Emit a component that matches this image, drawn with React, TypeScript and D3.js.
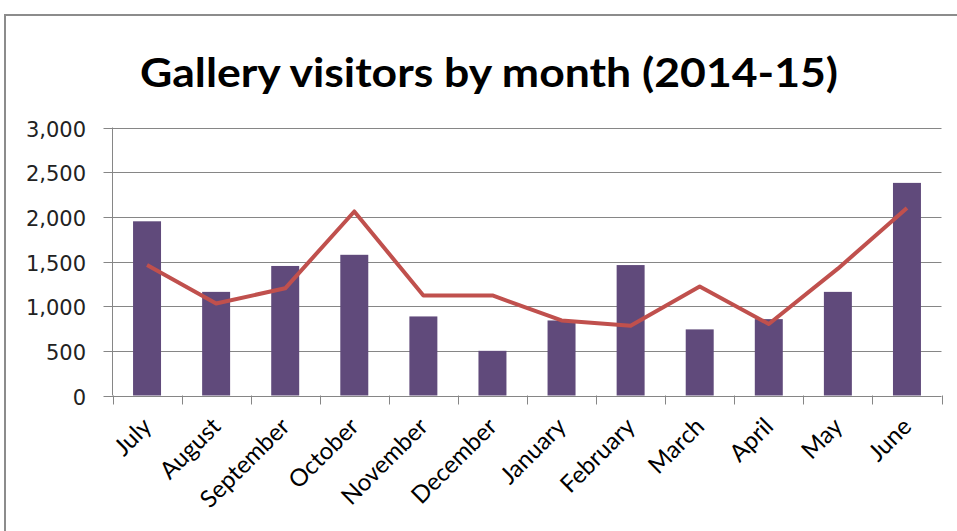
import React from "react";
import * as d3 from "d3";

const months = ["July","August","September","October","November","December","January","February","March","April","May","June"];
const visitors = [1950,1160,1450,1575,885,500,840,1460,740,855,1160,2380];
const trend = [1460,1030,1200,2060,1120,1120,840,780,1220,800,1420,2100];
const yTicks = [0,500,1000,1500,2000,2500,3000];
const title = "Gallery visitors by month (2014-15)";

const W = 957, H = 531;
const left = 112.5, right = 941.5, top = 127.5, bottom = 395.5;

export default function App() {
  const x = d3.scaleBand<string>().domain(months).range([left, right]).paddingInner(0).paddingOuter(0);
  const y = d3.scaleLinear().domain([0, 3000]).range([bottom, top]);
  const bw = x.bandwidth() * 0.405;
  const line = d3.line<number>().x((_, i) => x(months[i])! + x.bandwidth() / 2).y(d => y(d));
  const boundaries = d3.range(months.length + 1).map(i => left + i * x.bandwidth());
  return (
    <svg width={W} height={H} style={{ position: "absolute", left: 0, top: 0, background: "#fff" }}>
      <rect x={5} y={15} width={1000} height={600} fill="#fff" stroke="#8c8c8c" strokeWidth={2} />
      <text x={489} y={87} textAnchor="middle" fontFamily="Lato, 'Open Sans', sans-serif" fontWeight="bold" fontSize={41} textLength={698} lengthAdjust="spacingAndGlyphs" fill="#000">{title}</text>
      {yTicks.map(t => (
        <g key={t}>
          <line x1={left - 9} x2={right} y1={Math.round(y(t)) + 0.5} y2={Math.round(y(t)) + 0.5} stroke="#868686" strokeWidth={1} />
          <text x={86} y={y(t) + 9} textAnchor="end" fontFamily="'DejaVu Sans', Verdana, sans-serif" fontSize={21} fill="#222">{d3.format(",")(t)}</text>
        </g>
      ))}
      <line x1={left} x2={left} y1={top} y2={bottom} stroke="#868686" strokeWidth={1} />
      {boundaries.map((b, i) => (
        <line key={i} x1={Math.round(b) + 0.5} x2={Math.round(b) + 0.5} y1={bottom} y2={bottom + 9} stroke="#868686" strokeWidth={1} />
      ))}
      {visitors.map((v, i) => (
        <rect key={i} x={x(months[i])! + (x.bandwidth() - bw) / 2} y={y(v)} width={bw} height={bottom - y(v)} fill="#604A7B" />
      ))}
      <path d={line(trend)!} fill="none" stroke="#C0504D" strokeWidth={4} strokeLinejoin="round" />
      {months.map((m, i) => {
        const cx = x(m)! + x.bandwidth() / 2 + 6;
        const cy = 428;
        return (
          <text key={m} x={cx} y={cy} transform={`rotate(-45 ${cx} ${cy})`} textAnchor="end" fontFamily="Lato, 'Open Sans', sans-serif" fontSize={24} fill="#000">{m}</text>
        );
      })}
    </svg>
  );
}
